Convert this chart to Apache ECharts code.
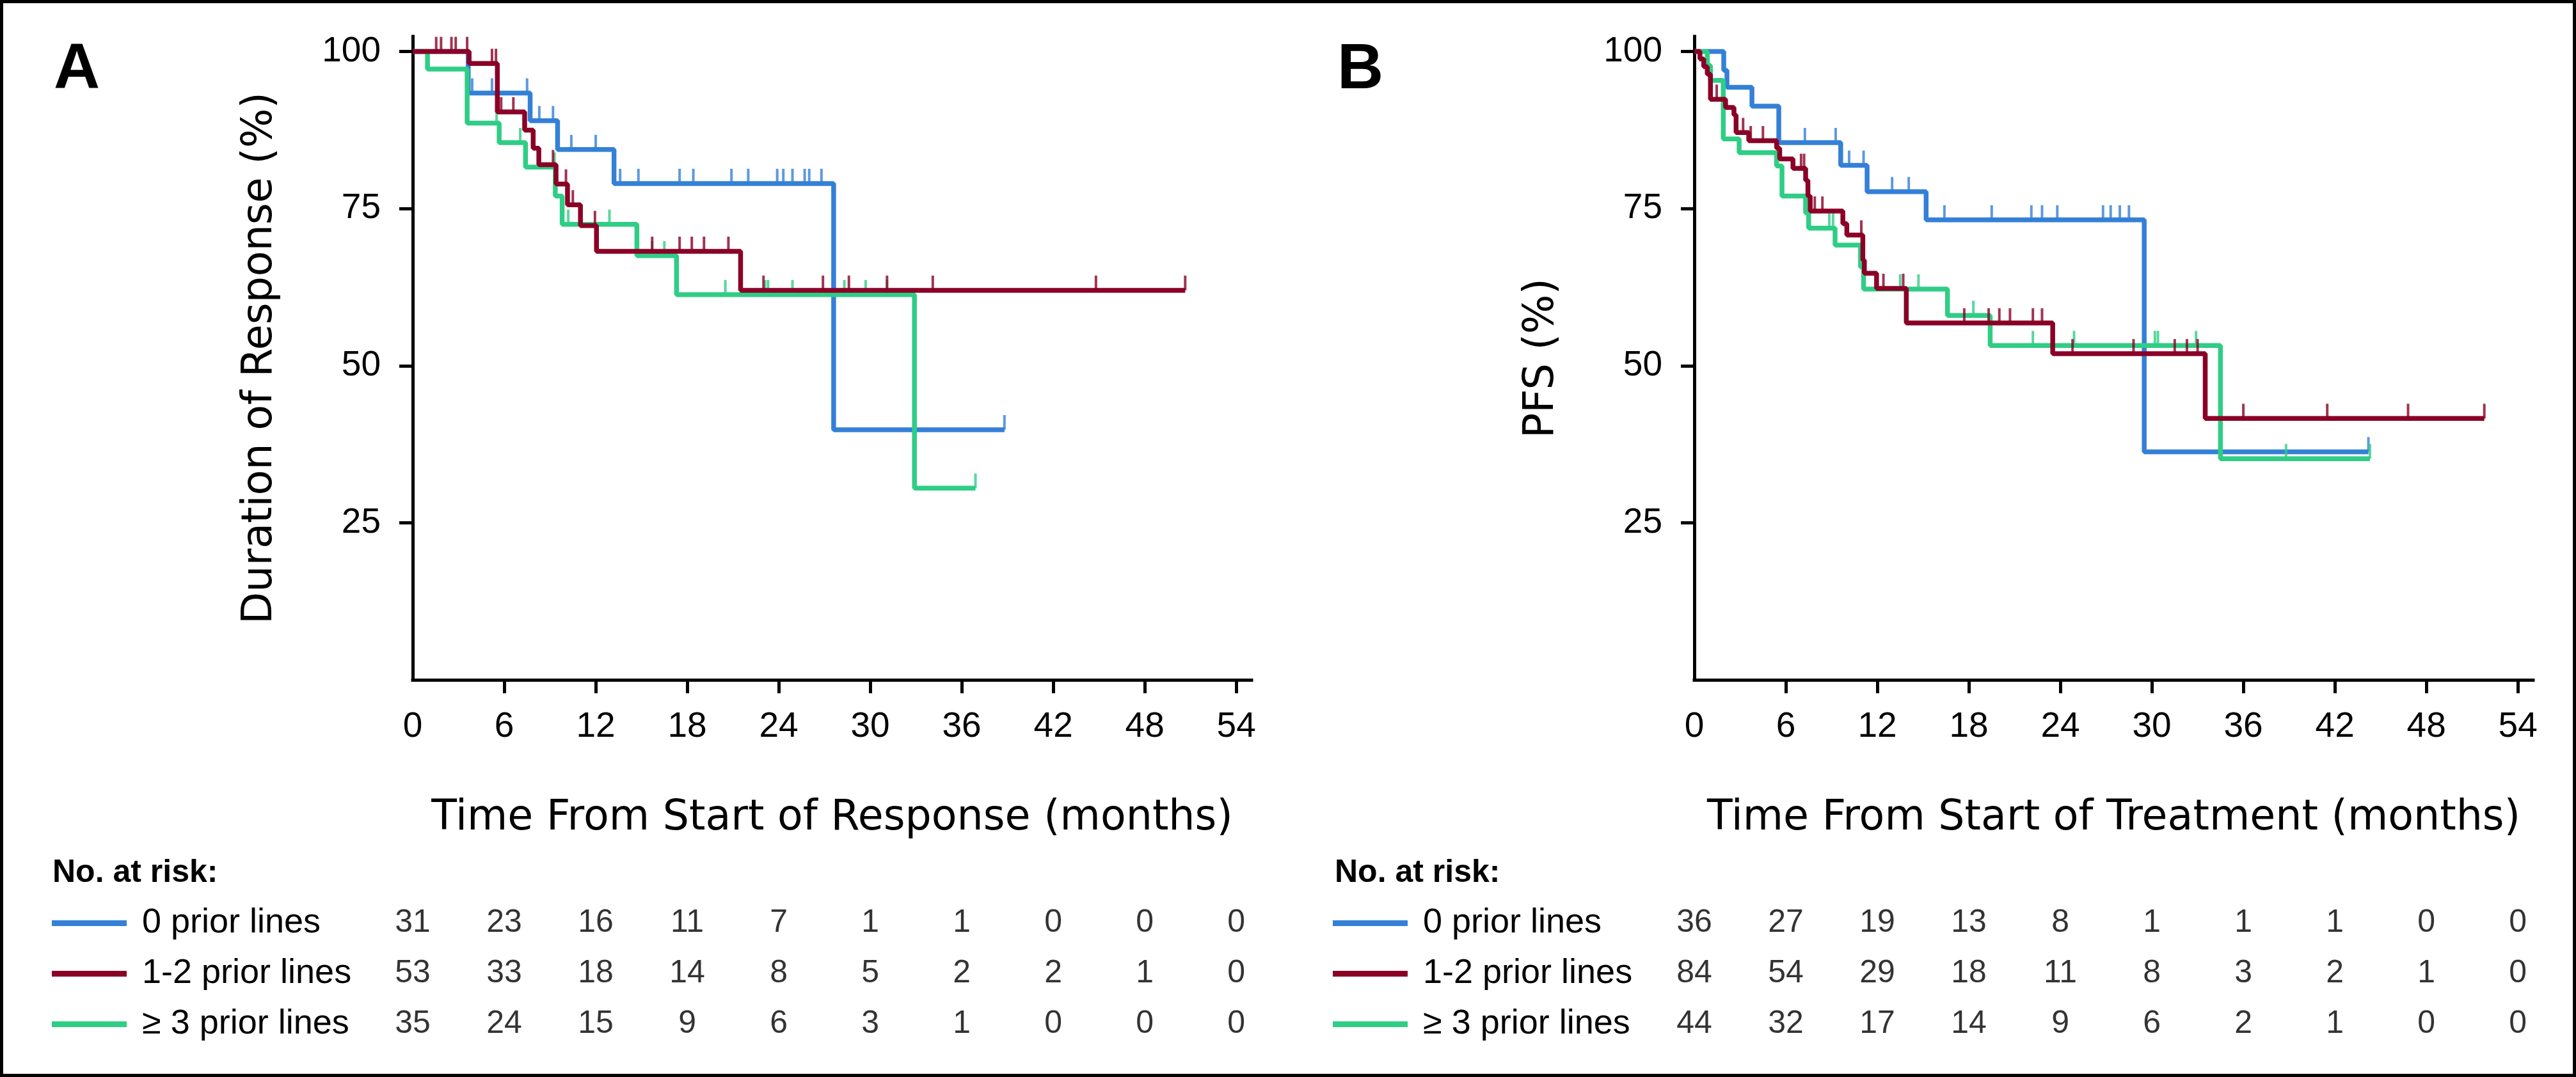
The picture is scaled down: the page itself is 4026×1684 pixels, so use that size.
<!DOCTYPE html>
<html><head><meta charset="utf-8">
<script src="https://cdn.jsdelivr.net/npm/echarts@6/dist/echarts.min.js"></script>
<style>html,body{margin:0;padding:0;background:#fff}#c{width:4026px;height:1684px}</style>
</head><body><div id="c"></div>
<script>
// ---------- tick labels / categories ----------
const monthLabels = [0, 6, 12, 18, 24, 30, 36, 42, 48, 54];
const monthTicks = [6, 12, 18, 24, 30, 36, 42, 48, 54];
const pctTicks = [25, 50, 75, 100];
const groupNames = ['0 prior lines', '1-2 prior lines', '\u2265 3 prior lines'];
const groupColors = ['#3480d7', '#8a0026', '#2fcd85'];

// ---------- Panel A: Duration of response ----------
const aTime0 = [0, 3.64, 7.7, 9.5, 13.2, 27.6, 38.8];
const aSurv0 = [100, 93.4, 89.0, 84.4, 79.0, 39.8, 39.8];
const aCens0 = [3.9, 5.2, 7.5, 8.3, 9.2, 10.4, 12.0, 13.6, 14.8, 17.5, 18.4, 20.9, 22.0, 23.9, 24.3, 24.9, 25.7, 26.0, 26.8, 38.8];

const aTime12 = [0, 3.7, 5.55, 7.34, 7.9, 8.27, 9.4, 10.15, 11.0, 12.05, 21.5, 50.65];
const aSurv12 = [100, 98.1, 90.4, 87.5, 84.6, 82.0, 78.9, 75.6, 72.3, 68.2, 62.0, 62.0];
const aCens12 = [1.54, 1.86, 2.54, 2.82, 3.57, 5.2, 5.46, 5.8, 6.6, 9.2, 10.05, 10.5, 11.95, 15.7, 17.5, 18.3, 19.1, 20.7, 23.0, 26.9, 28.6, 31.1, 34.1, 44.8, 50.65];

const aTime3 = [0, 0.97, 3.57, 5.67, 7.4, 9.35, 9.8, 14.7, 17.3, 32.9, 36.9];
const aSurv3 = [100, 97.2, 88.6, 85.5, 81.6, 77.0, 72.5, 67.5, 61.3, 30.5, 30.5];
const aCens3 = [5.5, 7.05, 9.3, 10.2, 12.9, 15.7, 16.5, 20.5, 23.1, 23.3, 24.9, 28.3, 29.7, 31.1, 36.9];

const aRisk0 = [31, 23, 16, 11, 7, 1, 1, 0, 0, 0];
const aRisk12 = [53, 33, 18, 14, 8, 5, 2, 2, 1, 0];
const aRisk3 = [35, 24, 15, 9, 6, 3, 1, 0, 0, 0];

// ---------- Panel B: PFS ----------
const bTime0 = [0, 1.93, 2.14, 3.78, 5.54, 9.6, 11.33, 15.2, 29.5, 44.2];
const bSurv0 = [100, 97.0, 94.3, 91.3, 85.5, 81.9, 77.7, 73.2, 36.3, 36.3];
const bCens0 = [7.25, 9.27, 10.15, 11.1, 12.97, 14.06, 16.4, 19.5, 22.1, 22.8, 23.8, 26.8, 27.3, 27.9, 28.5, 44.2];

const bTime12 = [0, 0.37, 0.62, 0.85, 1.06, 2.05, 2.6, 2.74, 3.57, 5.4, 5.6, 6.47, 7.3, 7.45, 7.6, 9.74, 10.0, 11.05, 11.15, 11.95, 13.9, 23.5, 33.5, 51.8];
const bSurv12 = [100, 98.8, 97.6, 96.4, 92.4, 91.1, 89.9, 87.1, 85.8, 84.6, 82.9, 81.4, 79.5, 77.0, 74.6, 72.6, 70.8, 66.8, 64.7, 62.3, 56.8, 51.9, 41.6, 41.6];
const bCens12 = [1.47, 3.2, 3.7, 4.5, 7.0, 7.2, 7.9, 8.4, 10.95, 12.4, 13.7, 17.7, 19.3, 20.0, 20.7, 22.2, 22.8, 24.8, 28.8, 31.5, 32.3, 33.0, 36.0, 41.5, 46.8, 51.8];

const bTime3 = [0, 0.85, 1.06, 1.9, 2.94, 5.4, 5.75, 7.3, 7.5, 9.23, 10.9, 11.1, 16.6, 19.4, 34.5, 44.3];
const bSurv3 = [100, 97.8, 95.4, 86.1, 83.9, 81.8, 77.0, 74.3, 71.9, 69.2, 65.7, 62.2, 58.0, 53.2, 35.2, 35.2];
const bCens3 = [8.85, 9.1, 12.0, 13.5, 14.7, 18.3, 22.2, 24.9, 30.2, 30.4, 32.9, 38.8, 44.3];

const bRisk0 = [36, 27, 19, 13, 8, 1, 1, 1, 0, 0];
const bRisk12 = [84, 54, 29, 18, 11, 8, 3, 2, 1, 0];
const bRisk3 = [44, 32, 17, 14, 9, 6, 2, 1, 0, 0];

// ---------- helpers ----------
function stepData(t, s) { return t.map((x, i) => [x, s[i]]); }
function survAt(t, s, x) { let v = s[0]; for (let i = 0; i < t.length; i++) { if (t[i] <= x) v = s[i]; } return v; }
function censData(t, s, c) { return c.map(x => [x, survAt(t, s, x)]); }

const FONT = 'Liberation Sans';
const TITLE_FONT = 'DejaVu Sans';
const AX = { color: '#000', width: 5, cap: 'square' };

function mainX(gi, name) {
  return {
    gridIndex: gi, type: 'value', min: 0, max: 55, interval: 6,
    axisLine: { show: true, lineStyle: AX },
    axisTick: { show: true, length: 21, lineStyle: { color: '#000', width: 5 }, customValues: monthTicks },
    axisLabel: { customValues: monthLabels, fontFamily: FONT, fontSize: 55, color: '#000', margin: 46 },
    splitLine: { show: false },
    name: name, nameLocation: 'middle', nameGap: 185,
    nameTextStyle: { fontFamily: TITLE_FONT, fontSize: 65, color: '#000' }
  };
}
function mainY(gi, name) {
  return {
    gridIndex: gi, type: 'value', min: 0, max: 102.4, interval: 25,
    axisLine: { show: true, lineStyle: AX },
    axisTick: { show: true, length: 21, lineStyle: { color: '#000', width: 5 }, customValues: pctTicks },
    axisLabel: { customValues: pctTicks, fontFamily: FONT, fontSize: 55, color: '#000', margin: 50 },
    splitLine: { show: false },
    name: name, nameLocation: 'middle', nameGap: 205, nameRotate: 90,
    nameTextStyle: { fontFamily: TITLE_FONT, fontSize: 65, color: '#000' }
  };
}
function tableX(gi) { return { gridIndex: gi, type: 'value', min: 0, max: 55, show: false }; }
function tableY(gi, margin) {
  return {
    gridIndex: gi, type: 'category', data: groupNames, inverse: true,
    axisLine: { show: false }, axisTick: { show: false }, splitLine: { show: false },
    axisLabel: {
      align: 'left', margin: margin,
      formatter: (v, i) => '{l' + i + '|}{t|' + v + '}',
      rich: {
        l0: { width: 117, height: 9, backgroundColor: groupColors[0], verticalAlign: 'middle' },
        l1: { width: 117, height: 9, backgroundColor: groupColors[1], verticalAlign: 'middle' },
        l2: { width: 117, height: 9, backgroundColor: groupColors[2], verticalAlign: 'middle' },
        t: { fontFamily: FONT, fontSize: 54, color: '#000', padding: [0, 0, 0, 24], verticalAlign: 'middle' }
      }
    }
  };
}

const series = [];
function addKM(xi, yi, t, s, c, color, z) {
  series.push({
    type: 'line', xAxisIndex: xi, yAxisIndex: yi, step: 'end', showSymbol: false, symbol: 'none',
    data: stepData(t, s), lineStyle: { color: color, width: 7.5 }, z: z, silent: true, animation: false
  });
  series.push({
    type: 'scatter', xAxisIndex: xi, yAxisIndex: yi, symbol: 'rect', symbolSize: [4, 23], symbolOffset: [0, -11.5],
    data: censData(t, s, c), itemStyle: { color: color }, z: z, silent: true, animation: false
  });
}
addKM(0, 0, aTime0, aSurv0, aCens0, groupColors[0], 2);
addKM(0, 0, aTime3, aSurv3, aCens3, groupColors[2], 3);
addKM(0, 0, aTime12, aSurv12, aCens12, groupColors[1], 4);
addKM(1, 1, bTime0, bSurv0, bCens0, groupColors[0], 2);
addKM(1, 1, bTime3, bSurv3, bCens3, groupColors[2], 3);
addKM(1, 1, bTime12, bSurv12, bCens12, groupColors[1], 4);

function addRisk(xi, yi, rows) {
  const data = [];
  rows.forEach((r, g) => r.forEach((v, i) => data.push([monthLabels[i], g, v])));
  series.push({
    type: 'scatter', xAxisIndex: xi, yAxisIndex: yi, symbolSize: 1, itemStyle: { color: 'rgba(0,0,0,0)' },
    data: data, silent: true, animation: false,
    label: { show: true, position: 'inside', formatter: p => String(p.value[2]), fontFamily: FONT, fontSize: 50, color: '#000' }
  });
}
addRisk(2, 2, [aRisk0, aRisk12, aRisk3]);
addRisk(3, 3, [bRisk0, bRisk12, bRisk3]);

const option = {
  backgroundColor: '#fff',
  animation: false,
  grid: [
    { left: 645, top: 57, width: 1311, height: 1006 },
    { left: 2648, top: 57, width: 1311, height: 1006 },
    { left: 645, top: 1404, width: 1311, height: 237 },
    { left: 2648, top: 1404, width: 1311, height: 237 }
  ],
  xAxis: [mainX(0, 'Time From Start of Response (months)'), mainX(1, 'Time From Start of Treatment (months)'), tableX(2), tableX(3)],
  yAxis: [mainY(0, 'Duration of Response (%)'), mainY(1, 'PFS (%)'), tableY(2, 564), tableY(3, 565)],
  series: series,
  graphic: [
    { type: 'rect', shape: { x: 2.5, y: 2.5, width: 4021, height: 1679 }, style: { fill: 'none', stroke: '#000', lineWidth: 5 }, silent: true },
    { type: 'text', left: 84, top: 60, style: { text: 'A', font: 'bold 100px "Liberation Sans"', fill: '#000' } },
    { type: 'text', left: 2090, top: 60, style: { text: 'B', font: 'bold 100px "Liberation Sans"', fill: '#000' } },
    { type: 'text', left: 82, top: 1340, style: { text: 'No. at risk:', font: 'bold 50px "Liberation Sans"', fill: '#000' } },
    { type: 'text', left: 2086, top: 1340, style: { text: 'No. at risk:', font: 'bold 50px "Liberation Sans"', fill: '#000' } }
  ]
};
const chart = echarts.init(document.getElementById('c'), null, { renderer: 'canvas' });
chart.setOption(option);
</script></body></html>
